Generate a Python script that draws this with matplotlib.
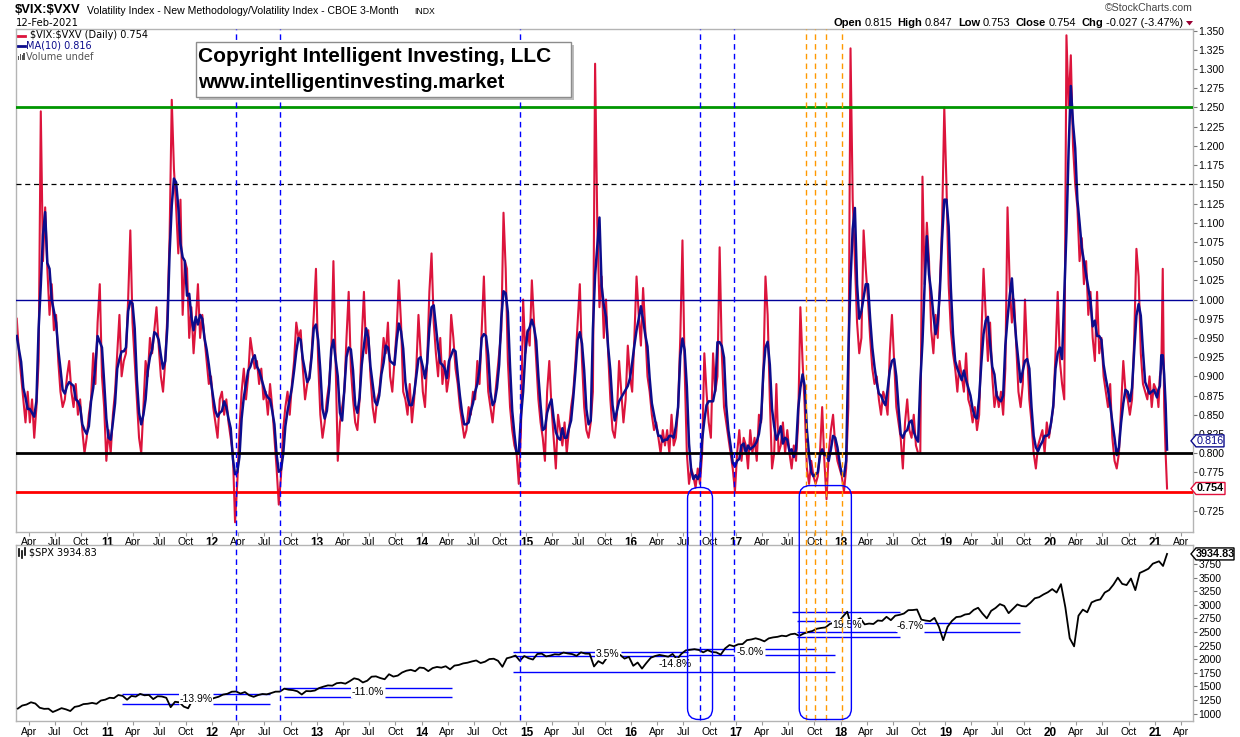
import numpy as np
import pandas as pd
import matplotlib
matplotlib.use("Agg")
import matplotlib.pyplot as plt
import matplotlib.dates as mdates
from matplotlib.patches import FancyBboxPatch, Polygon, Rectangle
from matplotlib.lines import Line2D
from matplotlib.transforms import IdentityTransform

plt.rcParams['font.family'] = ['Liberation Sans', 'DejaVu Sans']
plt.rcParams['text.parse_math'] = False
W, H = 1240, 737

# ---------------- data: $VIX:$VXV, ~weekly readings ----------------
ratio_2010 = [0.975, 0.93,
              0.90, 0.87, 0.84, 0.88, 0.84, 0.87, 0.82, 0.86,
              0.92, 1.245, 1.05, 1.12, 1.04, 0.98, 1.02, 0.96,
              0.98, 0.92, 0.88, 0.86, 0.87, 0.90, 0.92, 0.88,
              0.86, 0.89, 0.85, 0.87, 0.83, 0.80, 0.82, 0.85,
              0.87, 0.93, 0.89, 0.97, 1.02, 0.90, 0.86, 0.79]
ratio_2011 = [0.83, 0.80, 0.85, 0.88, 0.93, 0.98, 0.90, 0.92,
              0.93, 1.00, 1.09, 0.97, 0.92, 0.87, 0.82, 0.80,
              0.86, 0.92, 0.90, 0.95, 0.93, 0.96, 0.99, 0.94,
              0.90, 0.88, 0.92, 0.98, 1.08, 1.26, 1.17, 1.12,
              1.06, 1.13, 0.98, 1.05, 1.04, 0.95, 0.99, 0.93,
              0.97, 1.02, 0.95, 0.98, 0.95, 0.92, 0.89, 0.90]
ratio_2012 = [0.86, 0.84, 0.82, 0.87, 0.88, 0.85, 0.87, 0.84,
              0.82, 0.80, 0.71, 0.76, 0.83, 0.88, 0.91, 0.87,
              0.90, 0.95, 0.93, 0.91, 0.92, 0.89, 0.91, 0.87,
              0.88, 0.85, 0.89, 0.86, 0.82, 0.78, 0.733, 0.77,
              0.83, 0.86, 0.88, 0.85, 0.89, 0.92, 0.97, 0.95,
              0.96, 0.91, 0.87, 0.89, 0.90, 0.93, 0.98, 1.04]
ratio_2013 = [0.92, 0.85, 0.82, 0.84, 0.87, 0.89, 0.93, 1.05,
              0.92, 0.79, 0.84, 0.86, 0.88, 0.95, 1.01, 0.91,
              0.87, 0.84, 0.83, 0.87, 0.95, 1.01, 0.93, 0.96,
              0.90, 0.86, 0.84, 0.87, 0.88, 0.91, 0.95, 0.93,
              0.97, 0.90, 0.88, 0.92, 0.96, 1.025, 0.97, 0.88,
              0.87, 0.85, 0.89, 0.84, 0.87, 0.91, 0.98, 0.93]
ratio_2014 = [0.88, 0.86, 0.92, 1.01, 1.06, 0.97, 0.93, 0.90,
              0.95, 0.89, 0.92, 0.88, 0.90, 0.98, 0.95, 0.91,
              0.89, 0.86, 0.84, 0.82, 0.83, 0.86, 0.85, 0.88,
              0.87, 0.92, 0.89, 0.96, 1.03, 0.94, 0.88, 0.86,
              0.84, 0.87, 0.90, 0.93, 0.96, 1.113, 1.04, 0.92,
              0.86, 0.83, 0.81, 0.80, 0.76, 0.83, 1.00, 0.93]
ratio_2015 = [0.96, 0.94, 1.025, 0.97, 0.92, 0.87, 0.84, 0.82,
              0.79, 0.88, 0.92, 0.86, 0.82, 0.78, 0.85, 0.83,
              0.81, 0.84, 0.80, 0.83, 0.86, 0.88, 0.92, 0.97,
              1.02, 0.92, 0.86, 0.83, 0.82, 0.84, 0.88, 1.307,
              1.10, 0.99, 1.03, 0.95, 1.00, 0.93, 0.87, 0.83,
              0.82, 0.85, 0.92, 0.88, 0.84, 0.87, 0.94, 0.90]
ratio_2016 = [0.88, 0.95, 1.03, 0.98, 0.94, 1.015, 0.96, 0.90,
              0.88, 0.85, 0.83, 0.84, 0.82, 0.80, 0.83, 0.81,
              0.83, 0.80, 0.85, 0.81, 0.82, 0.86, 0.95, 1.077,
              0.91, 0.80, 0.76, 0.78, 0.77, 0.755, 0.78, 0.76,
              0.80, 0.93, 0.88, 0.84, 0.82, 0.93, 0.88, 0.90,
              1.068, 0.93, 0.86, 0.84, 0.82, 0.80, 0.78, 0.75]
ratio_2017 = [0.80, 0.83, 0.79, 0.82, 0.81, 0.78, 0.83, 0.80,
              0.82, 0.79, 0.85, 0.84, 0.90, 1.03, 0.98, 0.87,
              0.78, 0.80, 0.89, 0.80, 0.81, 0.84, 0.80, 0.83,
              0.80, 0.78, 0.81, 0.79, 0.84, 0.99, 0.92, 0.86,
              0.78, 0.76, 0.79, 0.77, 0.76, 0.77, 0.80, 0.86,
              0.79, 0.74, 0.80, 0.83, 0.85, 0.81, 0.79, 0.78]
ratio_2018 = [0.77, 0.75, 0.78, 0.86, 1.327, 1.13, 1.05, 0.97,
              0.93, 0.95, 1.09, 1.04, 1.00, 0.95, 0.91, 0.89,
              0.90, 0.87, 0.85, 0.88, 0.87, 0.85, 0.93, 0.98,
              0.92, 0.86, 0.84, 0.82, 0.78, 0.84, 0.87, 0.83,
              0.82, 0.85, 0.81, 0.80, 0.80, 1.16, 1.02, 1.10,
              1.05, 0.96, 0.93, 0.98, 0.95, 1.02, 1.10, 1.25]
ratio_2019 = [1.15, 1.02, 0.96, 0.93, 0.91, 0.88, 0.92, 0.90,
              0.88, 0.93, 0.87, 0.86, 0.84, 0.86, 0.83, 0.85,
              0.95, 1.04, 0.98, 0.92, 0.97, 0.90, 0.86, 0.88,
              0.86, 0.88, 0.85, 0.91, 1.12, 1.02, 0.97, 1.00,
              0.94, 0.88, 0.86, 0.89, 1.00, 0.93, 0.87, 0.84,
              0.80, 0.78, 0.81, 0.82, 0.83, 0.80, 0.84, 0.82]
ratio_2020 = [0.84, 0.86, 0.93, 1.01, 0.92, 0.89, 0.87, 1.344,
              1.25, 1.318, 1.20, 1.15, 1.12, 1.05, 1.08, 1.02,
              1.05, 0.98, 1.01, 0.95, 0.92, 1.01, 0.93, 0.95,
              0.90, 0.88, 0.86, 0.89, 0.82, 0.79, 0.78, 0.80,
              0.86, 0.92, 0.88, 0.87, 0.85, 0.87, 0.95, 1.066,
              1.03, 0.93, 0.89, 0.88, 0.87, 0.90, 0.86, 0.89]
ratio_2021 = [0.88, 0.86, 0.90, 0.91, 1.04, 0.86, 0.80, 0.754]

# ---------------- data: $SPX, ~semi-monthly readings ----------------
spx_2010 = [1094, 1150, 1169, 1210, 1187, 1110, 1089, 1092, 1031, 1065, 1102,
            1080, 1049, 1125, 1141, 1176, 1183, 1199, 1181, 1242, 1258]
spx_2011 = [1293, 1286, 1343, 1327, 1257, 1326, 1314, 1364, 1338, 1345, 1268, 1321,
            1316, 1292, 1120, 1219, 1209, 1131, 1099, 1253, 1216, 1247, 1212, 1258]
spx_2012 = [1289, 1312, 1351, 1366, 1404, 1408, 1370, 1398, 1338, 1310, 1342, 1362,
            1356, 1379, 1405, 1406, 1460, 1441, 1433, 1412, 1353, 1416, 1413, 1426]
spx_2013 = [1472, 1498, 1520, 1515, 1560, 1569, 1552, 1598, 1650, 1631, 1574, 1606,
            1680, 1686, 1655, 1633, 1725, 1682, 1700, 1757, 1790, 1806, 1780, 1848]
spx_2014 = [1839, 1782, 1838, 1859, 1846, 1872, 1815, 1884, 1896, 1924, 1937, 1960,
            1978, 1931, 1955, 2003, 2010, 1972, 1862, 2018, 2039, 2068, 1972, 2059]
spx_2015 = [2019, 1995, 2097, 2104, 2053, 2068, 2092, 2086, 2123, 2107, 2095, 2063,
            2127, 2104, 2102, 1868, 1966, 1920, 2033, 2079, 2023, 2080, 2012, 2044]
spx_2016 = [1880, 1940, 1829, 1932, 2027, 2060, 2080, 2065, 2047, 2097, 2000, 2099,
            2163, 2174, 2185, 2171, 2127, 2168, 2133, 2126, 2085, 2199, 2262, 2239]
spx_2017 = [2275, 2279, 2351, 2364, 2385, 2363, 2329, 2384, 2402, 2412, 2433, 2423,
            2459, 2470, 2430, 2472, 2500, 2519, 2560, 2575, 2585, 2648, 2675, 2674]
spx_2018 = [2786, 2873, 2581, 2714, 2752, 2641, 2656, 2648, 2712, 2705, 2780, 2718,
            2800, 2816, 2840, 2902, 2904, 2914, 2728, 2711, 2700, 2760, 2600, 2351]
spx_2019 = [2596, 2704, 2775, 2784, 2822, 2834, 2907, 2946, 2840, 2752, 2890, 2942,
            3013, 2980, 2847, 2926, 3007, 2977, 2970, 3038, 3120, 3141, 3191, 3231]
spx_2020 = [3289, 3226, 3380, 2954, 2386, 2237, 2800, 2912, 2863, 3044, 3080, 3100,
            3225, 3271, 3372, 3500, 3385, 3363, 3483, 3270, 3585, 3622, 3663, 3756]
spx_2021 = [3800, 3714, 3934.83]

# reference levels and event markers
ratio_levels = [1.25, 1.15, 1.00, 0.80, 0.75]
blue_events = [2012.23, 2012.65, 2014.94, 2016.66, 2016.98]
orange_events = [2017.67, 2017.75, 2017.86, 2018.01]
last_ratio, last_ma, last_spx = 0.754, 0.816, 3934.83

# drawn percentage-change annotations on SPX: (x0, x1, level)
spx_segments = [
    (2011.136, 2011.685, 1370), (2011.136, 2011.685, 1180),
    (2012.007, 2012.551, 1370), (2012.007, 2012.551, 1180),
    (2012.685, 2013.334, 1475), (2012.685, 2013.334, 1313),
    (2013.649, 2014.289, 1475), (2013.649, 2014.289, 1313),
    (2014.875, 2015.660, 2140), (2014.875, 2015.660, 2067),
    (2015.900, 2016.540, 2140), (2015.900, 2016.540, 2067),
    (2014.875, 2017.950, 1764),
    (2016.540, 2016.980, 2180), (2016.540, 2016.980, 2071),
    (2017.280, 2017.760, 2180), (2017.280, 2017.950, 2071),
    (2017.536, 2018.567, 2864), (2017.584, 2017.900, 2700),
    (2017.584, 2018.538, 2498), (2017.584, 2018.567, 2406),
    (2018.800, 2019.710, 2672), (2018.800, 2019.710, 2498),
]
spx_labels = [("-13.9%", 2011.845, 1275), ("-11.0%", 2013.487, 1394),
              ("3.5%", 2015.775, 2103), ("-14.8%", 2016.42, 1917),
              ("-5.0%", 2017.13, 2125), ("19.5%", 2018.06, 2630),
              ("-6.7%", 2018.66, 2610)]


# ---------------- helpers ----------------
def yf(y):
    yr = int(np.floor(y))
    s = pd.Timestamp(yr, 1, 1)
    return s + (pd.Timestamp(yr + 1, 1, 1) - s) * (y - yr)


def spread(vals, start, end, inclusive=False):
    s, e = pd.Timestamp(start), pd.Timestamp(end)
    n = len(vals)
    fr = np.linspace(0, 1, n) if inclusive else (np.arange(n) + 0.5) / n
    return [s + (e - s) * f for f in fr]


ratio_years = [ratio_2011, ratio_2012, ratio_2013, ratio_2014, ratio_2015,
               ratio_2016, ratio_2017, ratio_2018, ratio_2019, ratio_2020]
r_dates = spread(ratio_2010, "2010-02-15", "2011-01-01")
r_vals = list(ratio_2010)
for i, vals in enumerate(ratio_years):
    y = 2011 + i
    r_dates += spread(vals, f"{y}-01-01", f"{y+1}-01-01")
    r_vals += vals
r_dates += spread(ratio_2021, "2021-01-08", "2021-02-12", inclusive=True)
r_vals += ratio_2021
ratio = pd.Series(r_vals, index=pd.DatetimeIndex(r_dates))
ma = ratio.rolling(4, min_periods=1, center=True).mean()

spx_years = [spx_2011, spx_2012, spx_2013, spx_2014, spx_2015,
             spx_2016, spx_2017, spx_2018, spx_2019, spx_2020]
s_dates = spread(spx_2010, "2010-02-15", "2011-01-01")
s_vals = list(spx_2010)
for i, vals in enumerate(spx_years):
    y = 2011 + i
    s_dates += spread(vals, f"{y}-01-01", f"{y+1}-01-01")
    s_vals += vals
s_dates += spread(spx_2021, "2021-01-15", "2021-02-12", inclusive=True)
s_vals += spx_2021
spx = pd.Series(s_vals, index=pd.DatetimeIndex(s_dates))

# ---------------- figure ----------------
fig = plt.figure(figsize=(W / 100, H / 100), dpi=100)
fig.patch.set_facecolor('white')


def fx(x):
    return x / W


def fy(y):
    return 1 - y / H


L, R = 16, 1193
ax1 = fig.add_axes([fx(L), fy(531.5), (R - L) / W, (531.5 - 29.3) / H])
ax2 = fig.add_axes([fx(L), fy(721), (R - L) / W, (721 - 545) / H])

xmin, xmax = yf(2010.1265), yf(2021.363)
frame_col = '#b4b4b4'
for ax in (ax1, ax2):
    ax.set_xlim(xmin, xmax)
    for sp in ax.spines.values():
        sp.set_color(frame_col)
        sp.set_linewidth(1)
    ax.yaxis.tick_right()
    ax.tick_params(axis='y', which='both', length=3, width=0.8, color='#777777',
                   labelsize=7.5, pad=1)
    ax.tick_params(axis='x', which='both', length=3, width=0.8, color='#999999',
                   labelsize=7.5, pad=1)
    ax.patch.set_facecolor('white')

# x ticks (quarters)
ticks, labels, bolds = [], [], []
for y in range(2010, 2022):
    for m, lab in [(1, f"{y % 100:02d}"), (4, 'Apr'), (7, 'Jul'), (10, 'Oct')]:
        d = pd.Timestamp(y, m, 1)
        if xmin <= d <= xmax:
            ticks.append(d)
            labels.append(lab)
            bolds.append(m == 1)
for ax in (ax1, ax2):
    ax.set_xticks(ticks)
    ax.set_xticklabels(labels)
    for t, b in zip(ax.get_xticklabels(), bolds):
        if b:
            t.set_fontweight('bold')
            t.set_fontsize(8.5)

# ---- top panel ----
ax1.set_ylim(0.698, 1.3518)
yt = np.arange(0.725, 1.3501, 0.025)
ax1.set_yticks(yt)
ax1.set_yticklabels(["" if abs(v - 0.75) < 1e-6 else f"{v:.3f}" for v in yt])
ax1.plot(ratio.index, ratio.values, color='#dc143c', lw=1.5, zorder=2)
ax1.plot(ma.index, ma.values, color='#0c0c8c', lw=1.8, zorder=3)
lvl_styles = {1.25: dict(color='#009600', lw=2.0, ls='-'),
              1.15: dict(color='black', lw=0.9, ls=(0, (4, 3))),
              1.00: dict(color='#000099', lw=1.0, ls='-'),
              0.80: dict(color='black', lw=2.0, ls='-'),
              0.75: dict(color='#ff0000', lw=2.0, ls='-')}
for v in ratio_levels:
    ax1.axhline(v, zorder=4, **lvl_styles[v])

# ---- bottom panel ----
ax2.set_ylim(866, 4099)
ax2.set_yticks(np.arange(1000, 4001, 250))
ax2.set_yticklabels(["" if v == 4000 else str(v) for v in range(1000, 4001, 250)])
ax2.plot(spx.index, spx.values, color='black', lw=1.3, zorder=3)
for x0, x1, lv in spx_segments:
    ax2.hlines(lv, yf(x0), yf(x1), color='#0000ff', lw=1.0, zorder=2)
for txt, xl, yl in spx_labels:
    ax2.text(yf(xl), yl, txt, fontsize=7.5, ha='center', va='center', zorder=4,
             bbox=dict(boxstyle='square,pad=0.05', fc='white', ec='none'))

# ---- event lines spanning both panels ----
def xdisp(d):
    return ax1.transData.transform((mdates.date2num(d), 1.0))[0]


ytop_d, ybot_d = H - 29.3, H - 720
for e in blue_events:
    xd = xdisp(yf(e))
    fig.add_artist(Line2D([xd, xd], [ybot_d, ytop_d], transform=IdentityTransform(),
                          color='#0000ff', lw=1.0, ls=(0, (4, 3)), zorder=5))
for e in orange_events:
    xd = xdisp(yf(e))
    fig.add_artist(Line2D([xd, xd], [ybot_d, ytop_d], transform=IdentityTransform(),
                          color='#ff9900', lw=1.0, ls=(0, (4, 3)), zorder=5))

# rounded rectangles
for (a, b, top_v) in [(2016.538, 2016.776, 0.7553), (2017.604, 2018.102, 0.7578)]:
    x0, x1 = xdisp(yf(a)), xdisp(yf(b))
    yt_d = ax1.transData.transform((0, top_v))[1]
    yb_d = H - 719.5
    fig.add_artist(FancyBboxPatch((x0, yb_d), x1 - x0, yt_d - yb_d,
                                  boxstyle="round,pad=0,rounding_size=11",
                                  transform=IdentityTransform(), fill=False,
                                  ec='#0000ff', lw=1.0, zorder=6))


# ---- price tags on right axis ----
def tag(ax, val, text, ec, tc, bold, w):
    xr = ax.transData.transform((mdates.date2num(xmax), val))
    x, y = xr[0] - 2, xr[1]
    hh = 6
    pts = [(x, y), (x + 5, y + hh), (x + 5 + w, y + hh), (x + 5 + w, y - hh), (x + 5, y - hh)]
    fig.add_artist(Polygon(pts, closed=True, transform=IdentityTransform(),
                           fc='white', ec=ec, lw=1.0, zorder=8))
    fig.text((x + 5 + w / 2) / W, y / H, text, ha='center', va='center', color=tc,
             fontsize=7.8, fontweight='bold' if bold else 'normal', zorder=9)


tag(ax1, last_ma, f"{last_ma:.3f}", '#0c0c8c', '#0c0c8c', False, 28)
tag(ax1, last_ratio, f"{last_ratio:.3f}", '#e0103c', 'black', True, 29)
tag(ax2, last_spx, f"{last_spx:.2f}", 'black', 'black', True, 38)

# ---- header ----
fig.text(fx(15), fy(10), "$VIX:$VXV", fontsize=9.4, fontweight='bold', va='center')
fig.text(fx(87), fy(10.5), "Volatility Index - New Methodology/Volatility Index - CBOE 3-Month",
         fontsize=7.6, va='center')
fig.text(fx(414), fy(11), "INDX", fontsize=6.2, va='center')
fig.text(fx(16), fy(23), "12-Feb-2021", fontsize=7.2, va='center', family='DejaVu Sans')
fig.text(fx(1193), fy(8), "\u00a9StockCharts.com", fontsize=7.6, va='center', ha='right',
         color='#444444')

# OHLC line, laid out right to left ending near the triangle
ohlc = [("Open", True), ("0.815", False), ("High", True), ("0.847", False),
        ("Low", True), ("0.753", False), ("Close", True), ("0.754", False),
        ("Chg", True), ("-0.027 (-3.47%)", False)]
renderer = fig.canvas.get_renderer()
x_cur = 1183.0
for s, b in reversed(ohlc):
    t = fig.text(fx(x_cur), fy(23), s, fontsize=8, fontweight='bold' if b else 'normal',
                 va='center', ha='right')
    w_px = t.get_window_extent(renderer).width
    x_cur -= w_px + (2.5 if not b else 5.5)
fig.add_artist(Polygon([(1186, H - 21), (1193, H - 21), (1189.5, H - 25.5)], closed=True,
                       transform=IdentityTransform(), fc='#990033', ec='none'))

# legend in top panel
fig.add_artist(Line2D([18, 25], [H - 35.5, H - 35.5], transform=IdentityTransform(),
                      color='#dc143c', lw=2))
fig.text(fx(30), fy(35.5), "$VIX:$VXV (Daily) 0.754", fontsize=7, va='center',
         family='DejaVu Sans')
fig.add_artist(Line2D([18, 25], [H - 46, H - 46], transform=IdentityTransform(),
                      color='#0c0c8c', lw=2))
fig.text(fx(26), fy(46), "MA(10) 0.816", fontsize=7, va='center', color='#0c0c8c',
         family='DejaVu Sans')
for i, hgt in enumerate([4, 6, 5, 7]):
    fig.add_artist(Rectangle((18 + i * 1.8, H - 60), 1.2, hgt, transform=IdentityTransform(),
                             fc='#555555', ec='none'))
fig.text(fx(26), fy(56.5), "Volume undef", fontsize=7, va='center', color='#555555',
         family='DejaVu Sans')

# SPX label in bottom panel
for i, (lo, hi) in enumerate([(549, 556), (551, 558), (548, 555)]):
    fig.add_artist(Line2D([19 + i * 3, 19 + i * 3], [H - hi, H - lo],
                          transform=IdentityTransform(), color='black', lw=1.2))
fig.text(fx(29), fy(552.5), "$SPX 3934.83", fontsize=7, va='center', family='DejaVu Sans')

# copyright box
fig.add_artist(Rectangle((198.5, H - 99.5), 375.5, 55, transform=IdentityTransform(),
                         fc='#bdbdbd', ec='none', zorder=10))
fig.add_artist(Rectangle((195.5, H - 96.7), 375.5, 55, transform=IdentityTransform(),
                         fc='white', ec='#8c8c8c', lw=1, zorder=11))
fig.text(fx(198), fy(57), "Copyright Intelligent Investing, LLC", fontsize=15,
         fontweight='bold', va='center', zorder=12)
fig.text(fx(198), fy(82), "www.intelligentinvesting.market", fontsize=14.5,
         fontweight='bold', va='center', zorder=12)

fig.savefig("out.png", dpi=100)
